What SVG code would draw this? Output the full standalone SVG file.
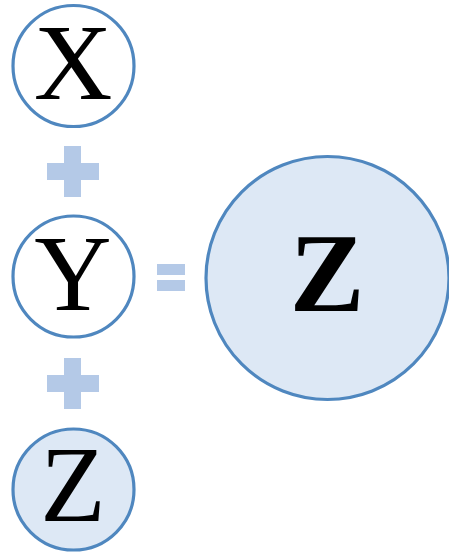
<svg xmlns="http://www.w3.org/2000/svg" width="449" height="555" viewBox="0 0 449 555">
<style>
.node circle{stroke:#4f87bf;stroke-width:3.2}
.w{fill:#ffffff}
.b{fill:#dde8f5}
.t{font-family:"Liberation Serif","Times New Roman",serif;fill:#000;text-anchor:middle}
.op{fill:#b4c9e7}
</style>
<rect width="449" height="555" fill="#ffffff"/>
<g id="node-x" class="node">
<circle class="w" cx="73.5" cy="66" r="60.5"/>
<text class="t" x="73" y="99" font-size="109">X</text>
</g>
<g id="node-y" class="node">
<circle class="w" cx="73.5" cy="276.5" r="60.5"/>
<text class="t" x="73" y="310" font-size="107">Y</text>
</g>
<g id="node-z-small" class="node">
<circle class="b" cx="73.5" cy="489.5" r="60.5"/>
<text class="t" x="73" y="521" font-size="107">Z</text>
</g>
<g id="node-z-big" class="node">
<circle class="b" cx="327.5" cy="278" r="121.5"/>
<text class="t" x="327" y="311" font-size="112" font-weight="bold">Z</text>
</g>
<g id="connectors">
<g id="plus1" class="op">
<rect x="47" y="163" width="52" height="17"/>
<rect x="64" y="146" width="17" height="51"/>
</g>
<g id="plus2" class="op">
<rect x="47" y="375" width="52" height="17"/>
<rect x="64" y="358" width="17" height="51"/>
</g>
<g id="equals" class="op">
<rect x="157" y="264" width="28" height="11"/>
<rect x="157" y="280" width="28" height="11"/>
</g>
</g>
</svg>
